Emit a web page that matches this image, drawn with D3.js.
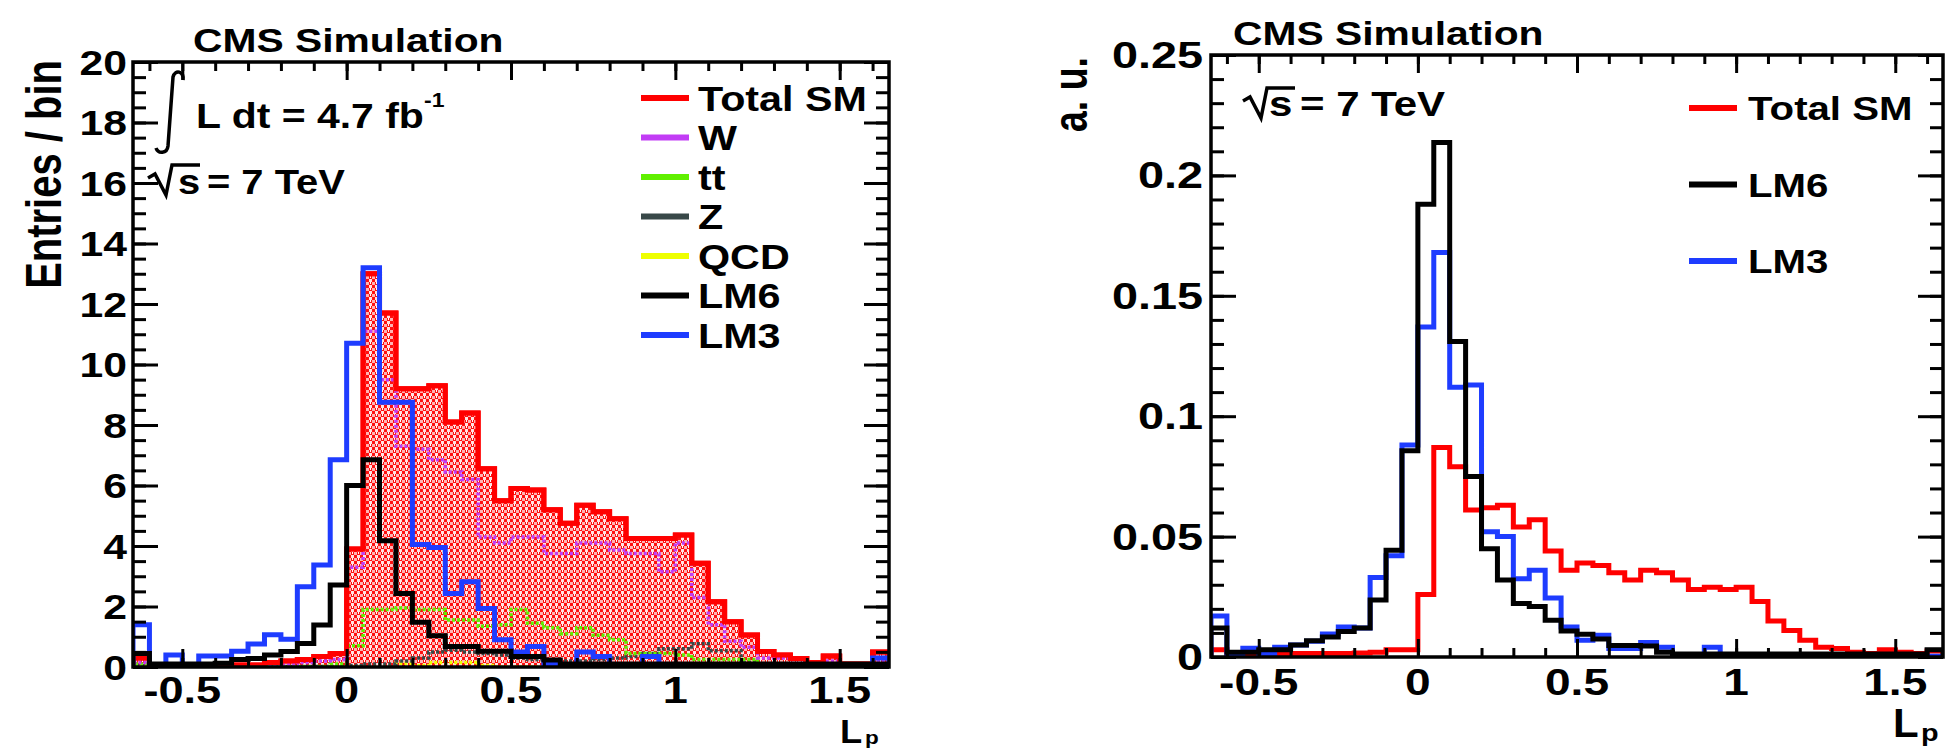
<!DOCTYPE html>
<html>
<head>
<meta charset="utf-8">
<script src="https://cdn.jsdelivr.net/npm/d3@7"></script>
<style>
  body { margin: 0; background: #fff; }
  svg { display: block; }
  text { font-family: "Liberation Sans", Arial, Helvetica, sans-serif; font-weight: bold; fill: #000; }
</style>
</head>
<body>
<svg id="chart" width="1948" height="750"></svg>
<script>
// bin edges of L_P (46 bins)
const binEdges = [-0.65, -0.6, -0.55, -0.5, -0.45, -0.4, -0.35, -0.3, -0.25, -0.2, -0.15, -0.1, -0.05,
  0, 0.05, 0.1, 0.15, 0.2, 0.25, 0.3, 0.35, 0.4, 0.45, 0.5, 0.55, 0.6, 0.65, 0.7, 0.75, 0.8, 0.85,
  0.9, 0.95, 1, 1.05, 1.1, 1.15, 1.2, 1.25, 1.3, 1.35, 1.4, 1.45, 1.5, 1.55, 1.6, 1.65];

// left panel: entries / bin
const leftTotalSM = [0.3, 0.05, 0.05, 0.05, 0.05, 0.05, 0.07, 0.07, 0.15, 0.2, 0.25, 0.35, 0.45,
  3.9, 13.0, 11.7, 9.2, 9.2, 9.3, 8.1, 8.4, 6.55, 5.5, 5.9, 5.85, 5.2, 4.75, 5.35, 5.13, 4.9, 4.25,
  4.25, 4.25, 4.36, 3.43, 2.16, 1.5, 1.06, 0.51, 0.4, 0.28, 0.15, 0.36, 0.1, 0.1, 0.5];
const leftW = [0.15, 0.02, 0.02, 0.02, 0.02, 0.02, 0.03, 0.03, 0.05, 0.1, 0.15, 0.2, 0.25,
  3.3, 11.1, 9.5, 7.3, 7.2, 6.85, 6.45, 6.2, 4.3, 4.1, 4.3, 4.3, 3.75, 3.75, 4.1, 4.1, 3.87, 3.75,
  3.75, 3.15, 4.1, 2.3, 1.4, 0.85, 0.65, 0.3, 0.3, 0.25, 0.15, 0.2, 0.05, 0.05, 0.2];
const leftTT = [0.1, 0.02, 0.02, 0.02, 0.02, 0.02, 0.02, 0.02, 0.02, 0.02, 0.02, 0.02, 0.1,
  0.7, 1.9, 1.9, 1.95, 1.9, 1.9, 1.55, 1.55, 1.35, 1.4, 1.9, 1.45, 1.3, 1.1, 1.3, 1.05, 0.9, 0.45,
  0.45, 0.45, 0.4, 0.25, 0.25, 0.25, 0.25, 0.1, 0.05, 0.02, 0.02, 0.02, 0.02, 0.02, 0.02];
const leftZ = [0.05, 0.02, 0.02, 0.02, 0.02, 0.02, 0.02, 0.02, 0.02, 0.02, 0.02, 0.02, 0.02,
  0.05, 0.1, 0.1, 0.2, 0.3, 0.5, 0.55, 0.5, 0.45, 0.4, 0.3, 0.25, 0.2, 0.2, 0.2, 0.25, 0.3, 0.35,
  0.45, 0.6, 0.6, 0.77, 0.54, 0.54, 0.15, 0.1, 0.02, 0.02, 0.02, 0.02, 0.02, 0.02, 0.02];
const leftQCD = [0, 0, 0, 0, 0, 0, 0, 0, 0, 0, 0, 0, 0, 0, 0, 0,
  0.12, 0.05, 0.15, 0.15, 0.15, 0.05,
  0, 0, 0, 0, 0, 0, 0, 0, 0, 0, 0, 0, 0, 0, 0, 0, 0, 0, 0, 0, 0, 0, 0, 0];
const leftLM6 = [0.45, 0.1, 0.1, 0.1, 0.1, 0.12, 0.25, 0.28, 0.4, 0.51, 0.78, 1.39, 2.71,
  6.0, 6.85, 4.17, 2.43, 1.48, 1.03, 0.68, 0.68, 0.52, 0.52, 0.35, 0.35, 0.23, 0.1, 0.1,
  0.1, 0.1, 0.1, 0.1, 0.1, 0.1, 0.1, 0.1, 0.1, 0.1, 0.1, 0.1, 0.1, 0.1, 0.1, 0.1, 0.1, 0.1];
const leftLM3 = [1.4, 0.05, 0.4, 0.05, 0.36, 0.36, 0.52, 0.76, 1.07, 0.92, 2.65, 3.37, 6.85,
  10.7, 13.2, 8.75, 8.75, 4.05, 3.95, 2.43, 2.82, 1.93, 0.9, 0.5, 0.68, 0.1, 0.05, 0.5,
  0.35, 0, 0, 0.35, 0, 0, 0, 0, 0, 0, 0, 0, 0, 0, 0, 0, 0, 0.3];

// right panel: arbitrary units
const rightTotalSM = [0.003, 0.0005, 0.0005, 0.001, 0.0012, 0.0015, 0.0015, 0.0015, 0.0015, 0.0017,
  0.002, 0.003, 0.003, 0.026, 0.087, 0.079, 0.061, 0.062, 0.063, 0.054, 0.057, 0.044, 0.036, 0.039,
  0.038, 0.035, 0.032, 0.036, 0.035, 0.032, 0.028, 0.029, 0.028, 0.029, 0.023, 0.015, 0.011, 0.007,
  0.004, 0.0035, 0.002, 0.0015, 0.003, 0.002, 0.0015, 0.0025];
const rightLM6 = [0.012, 0.002, 0.002, 0.003, 0.003, 0.005, 0.0068, 0.0083, 0.0106, 0.012, 0.0237,
  0.0443, 0.0857, 0.188, 0.2137, 0.131, 0.075, 0.045, 0.032, 0.0222, 0.021, 0.0153, 0.0108, 0.0094,
  0.0075, 0.0048, 0.0048, 0.0046, 0.002, 0.0012, 0.0012, 0.0012, 0.0012, 0.0012, 0.0012, 0.0012,
  0.0012, 0.0012, 0.0012, 0.0012, 0.0012, 0.0012, 0.0012, 0.0012, 0.0012, 0.003];
const rightLM3 = [0.017, 0.001, 0.0036, 0.001, 0.004, 0.005, 0.0065, 0.0095, 0.0125, 0.012, 0.033,
  0.042, 0.088, 0.137, 0.168, 0.112, 0.113, 0.052, 0.05, 0.0325, 0.036, 0.0245, 0.0125, 0.007, 0.009,
  0.0035, 0.0035, 0.006, 0.004, 0.0005, 0.0005, 0.004, 0.0003, 0.0003, 0.0003, 0.0003, 0.0003, 0.0003,
  0.0003, 0.0003, 0.0003, 0.0003, 0.0003, 0.0003, 0.0003, 0.0003];

// ticks and labels
const xMajor = [-0.5, 0, 0.5, 1, 1.5];
const xLabels = ['-0.5', '0', '0.5', '1', '1.5'];
const leftYMajor = [0, 2, 4, 6, 8, 10, 12, 14, 16, 18, 20];
const leftYLabels = ['0', '2', '4', '6', '8', '10', '12', '14', '16', '18', '20'];
const rightYMajor = [0, 0.05, 0.1, 0.15, 0.2, 0.25];
const rightYLabels = ['0', '0.05', '0.1', '0.15', '0.2', '0.25'];

const leftLegend = ['Total SM', 'W', 'tt', 'Z', 'QCD', 'LM6', 'LM3'];
const leftColors = ['#ff0000', '#c23cf5', '#60f000', '#384848', '#eeff00', '#000000', '#1e3cff'];
const rightLegend = ['Total SM', 'LM6', 'LM3'];
const rightColors = ['#ff0000', '#000000', '#1e3cff'];

const svg = d3.select('#chart');
const defs = svg.append('defs');

// red / pink checker fill of the SM stack
const pat = defs.append('pattern').attr('id', 'smFill')
  .attr('patternUnits', 'userSpaceOnUse').attr('width', 6).attr('height', 6);
pat.append('rect').attr('width', 6).attr('height', 6).attr('fill', '#ff1010');
pat.append('rect').attr('width', 3).attr('height', 3).attr('fill', '#ffb4b4');
pat.append('rect').attr('x', 3).attr('y', 3).attr('width', 3).attr('height', 3).attr('fill', '#ffe2e2');
pat.append('rect').attr('x', 4).attr('y', 0).attr('width', 1).attr('height', 2).attr('fill', '#ffffff');

// stretched bold text, like the original canvas
function label(g, x, y, str, size, anchor, sx, rot) {
  return g.append('text')
    .attr('transform', `translate(${x},${y}) scale(${sx},1)` + (rot ? ` rotate(${rot})` : ''))
    .attr('font-size', size)
    .attr('text-anchor', anchor)
    .text(str);
}

function panel(id, left, right, top, bottom, yDomain) {
  const x = d3.scaleLinear().domain([binEdges[0], binEdges[binEdges.length - 1]]).range([left, right]);
  const y = d3.scaleLinear().domain(yDomain).range([bottom, top]);
  const g = svg.append('g');
  defs.append('clipPath').attr('id', id + '-clip').append('rect')
    .attr('x', left).attr('y', top).attr('width', right - left).attr('height', bottom - top);
  const plot = g.append('g').attr('clip-path', `url(#${id}-clip)`);
  return { x, y, g, plot };
}

function hist(p, vals, color, width, dash, fill) {
  const pts = [[binEdges[0], 0]];
  vals.forEach((v, i) => { pts.push([binEdges[i], v], [binEdges[i + 1], v]); });
  pts.push([binEdges[vals.length], 0]);
  const line = d3.line().x(d => p.x(d[0])).y(d => p.y(d[1]));
  if (fill) p.plot.append('path').attr('d', line(pts) + 'Z').attr('fill', fill).attr('stroke', 'none');
  p.plot.append('path').attr('d', line(pts))
    .attr('fill', 'none').attr('stroke', color).attr('stroke-width', width)
    .attr('stroke-linejoin', 'miter').attr('stroke-dasharray', dash || null);
}

function axes(p, yMajor, yMinorCount) {
  const [l, r] = p.x.range(), [b, t] = p.y.range();
  const xMinor = p.x.ticks(23), yMinor = p.y.ticks(yMinorCount);
  const add = (axis, tx, ty) => p.g.append('g')
    .attr('transform', `translate(${tx},${ty})`)
    .call(axis)
    .call(s => {
      s.select('.domain').remove();
      s.selectAll('text').remove();
      s.selectAll('line').attr('stroke', '#000').attr('stroke-width', 3);
    });
  add(d3.axisBottom(p.x).tickValues(xMinor).tickSize(-9), 0, b);
  add(d3.axisBottom(p.x).tickValues(xMajor).tickSize(-18), 0, b);
  add(d3.axisTop(p.x).tickValues(xMinor).tickSize(-9), 0, t);
  add(d3.axisTop(p.x).tickValues(xMajor).tickSize(-18), 0, t);
  add(d3.axisLeft(p.y).tickValues(yMinor).tickSize(-13), l, 0);
  add(d3.axisLeft(p.y).tickValues(yMajor).tickSize(-25), l, 0);
  add(d3.axisRight(p.y).tickValues(yMinor).tickSize(-13), r, 0);
  add(d3.axisRight(p.y).tickValues(yMajor).tickSize(-25), r, 0);
  p.g.append('rect').attr('x', l).attr('y', t).attr('width', r - l).attr('height', b - t)
    .attr('fill', 'none').attr('stroke', '#000').attr('stroke-width', 3.5);
}

// ---------- left panel ----------
const L = panel('left', 133, 889, 62, 667, [0, 20]);
hist(L, leftTotalSM, '#ff0000', 5, null, 'url(#smFill)');
hist(L, leftQCD, leftColors[4], 3.5, '3 2');
hist(L, leftZ, leftColors[3], 3.5, '3 2');
hist(L, leftTT, leftColors[2], 3.5, '3 2');
hist(L, leftW, leftColors[1], 3.5, '3 2');
hist(L, leftTotalSM, '#ff0000', 5);
hist(L, leftLM3, leftColors[6], 5);
hist(L, leftLM6, leftColors[5], 5);
axes(L, leftYMajor, 40);

leftYMajor.forEach((v, i) => label(L.g, 127, L.y(v) + 12.5, leftYLabels[i], 35, 'end', 1.22));
xMajor.forEach((v, i) => label(L.g, L.x(v), 703, xLabels[i], 37, 'middle', 1.22));
label(L.g, 193, 52, 'CMS Simulation', 34, 'start', 1.2);
label(L.g, 61, 60, 'Entries / bin', 40, 'end', 1.25, -90);
label(L.g, 840, 743, 'L', 33, 'start', 1.1);
label(L.g, 865, 744, 'p', 18, 'start', 1.25);

// integral sign and text
L.g.append('path').attr('d', 'M183,80 C184,71 175,69 173,77 L168,146 C167,154 158,154 156,148')
  .attr('fill', 'none').attr('stroke', '#000').attr('stroke-width', 3.5);
label(L.g, 196, 128, 'L dt = 4.7 fb', 35, 'start', 1.17);
label(L.g, 424, 107, '-1', 20, 'start', 1.15);
L.g.append('path').attr('d', 'M148,178 L155,174 L166,195 L172,165 L200,165')
  .attr('fill', 'none').attr('stroke', '#000').attr('stroke-width', 3.5);
label(L.g, 178, 194, 's', 35, 'start', 1.14);
label(L.g, 207, 194, '= 7 TeV', 35, 'start', 1.14);

leftLegend.forEach((name, i) => {
  const cy = 98 + i * 39.5;
  L.g.append('line').attr('x1', 641).attr('x2', 689).attr('y1', cy).attr('y2', cy)
    .attr('stroke', leftColors[i]).attr('stroke-width', 6);
  label(L.g, 698, cy + 12.5, name, 35, 'start', 1.18);
});

// ---------- right panel ----------
const R = panel('right', 1211, 1943, 55, 657, [0, 0.25]);
hist(R, rightTotalSM, rightColors[0], 5);
hist(R, rightLM3, rightColors[2], 5);
hist(R, rightLM6, rightColors[1], 5);
axes(R, rightYMajor, 25);

rightYMajor.forEach((v, i) => label(R.g, 1203, R.y(v) + 13, rightYLabels[i], 36, 'end', 1.3));
xMajor.forEach((v, i) => label(R.g, R.x(v), 695, xLabels[i], 36, 'middle', 1.28));
label(R.g, 1233, 45, 'CMS Simulation', 34, 'start', 1.2);
label(R.g, 1087, 57, 'a. u.', 37.5, 'end', 1.3, -90);
label(R.g, 1893, 737, 'L', 40, 'start', 1.05);
label(R.g, 1921, 741, 'p', 24, 'start', 1.2);

R.g.append('path').attr('d', 'M1243,101 L1250,97 L1261,118 L1267,88 L1295,88')
  .attr('fill', 'none').attr('stroke', '#000').attr('stroke-width', 3.5);
label(R.g, 1269, 116, 's', 35, 'start', 1.2);
label(R.g, 1300, 116, '= 7 TeV', 35, 'start', 1.2);

rightLegend.forEach((name, i) => {
  const cy = 108 + i * 76.5;
  R.g.append('line').attr('x1', 1689).attr('x2', 1737).attr('y1', cy).attr('y2', cy)
    .attr('stroke', rightColors[i]).attr('stroke-width', 6);
  label(R.g, 1748, cy + 12, name, 33.5, 'start', 1.2);
});
</script>
</body>
</html>
